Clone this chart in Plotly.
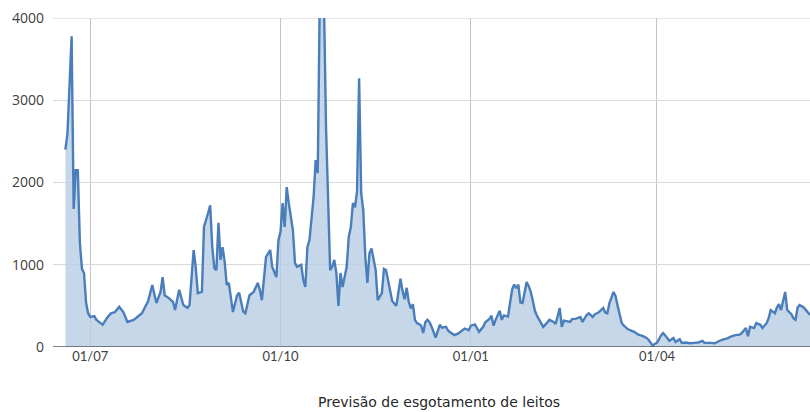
import plotly.graph_objects as go

dates = [
    "2020-06-19", "2020-06-20", "2020-06-22", "2020-06-23", "2020-06-24", "2020-06-25", "2020-06-26",
    "2020-06-27", "2020-06-28", "2020-06-29", "2020-06-30",
    "2020-07-01", "2020-07-03", "2020-07-04", "2020-07-06", "2020-07-07", "2020-07-09", "2020-07-11",
    "2020-07-13", "2020-07-15", "2020-07-17", "2020-07-19", "2020-07-22", "2020-07-24", "2020-07-26",
    "2020-07-29", "2020-07-31",
    "2020-08-02", "2020-08-04", "2020-08-05", "2020-08-06", "2020-08-08", "2020-08-10", "2020-08-11",
    "2020-08-13", "2020-08-15", "2020-08-17", "2020-08-18", "2020-08-20", "2020-08-21", "2020-08-22",
    "2020-08-24", "2020-08-25", "2020-08-27", "2020-08-28", "2020-08-29", "2020-08-30", "2020-08-31",
    "2020-09-01", "2020-09-02", "2020-09-03", "2020-09-04", "2020-09-05", "2020-09-06", "2020-09-07",
    "2020-09-08", "2020-09-10", "2020-09-11", "2020-09-13", "2020-09-14", "2020-09-16", "2020-09-18",
    "2020-09-20", "2020-09-21", "2020-09-22", "2020-09-24", "2020-09-26", "2020-09-27", "2020-09-29",
    "2020-09-30",
    "2020-10-01", "2020-10-02", "2020-10-03", "2020-10-04", "2020-10-05", "2020-10-07", "2020-10-08",
    "2020-10-09", "2020-10-11", "2020-10-12", "2020-10-13", "2020-10-14", "2020-10-15", "2020-10-17",
    "2020-10-18", "2020-10-19", "2020-10-20", "2020-10-21", "2020-10-22", "2020-10-23", "2020-10-25",
    "2020-10-26", "2020-10-27", "2020-10-28", "2020-10-29", "2020-10-30", "2020-10-31",
    "2020-11-02", "2020-11-03", "2020-11-04", "2020-11-05", "2020-11-06", "2020-11-07", "2020-11-08",
    "2020-11-09", "2020-11-10", "2020-11-11", "2020-11-12", "2020-11-13", "2020-11-14", "2020-11-16",
    "2020-11-17", "2020-11-19", "2020-11-20", "2020-11-21", "2020-11-23", "2020-11-24", "2020-11-26",
    "2020-11-28", "2020-11-29", "2020-11-30",
    "2020-12-01", "2020-12-02", "2020-12-03", "2020-12-04", "2020-12-05", "2020-12-06", "2020-12-07",
    "2020-12-08", "2020-12-09", "2020-12-10", "2020-12-11", "2020-12-12", "2020-12-13", "2020-12-14",
    "2020-12-15", "2020-12-17", "2020-12-18", "2020-12-20", "2020-12-21", "2020-12-22", "2020-12-24",
    "2020-12-26", "2020-12-28", "2020-12-29", "2020-12-31",
    "2021-01-01", "2021-01-03", "2021-01-05", "2021-01-07", "2021-01-08", "2021-01-10", "2021-01-11",
    "2021-01-12", "2021-01-13", "2021-01-15", "2021-01-16", "2021-01-17", "2021-01-19", "2021-01-20",
    "2021-01-21", "2021-01-22", "2021-01-23", "2021-01-24", "2021-01-25", "2021-01-26", "2021-01-28",
    "2021-01-29", "2021-01-30", "2021-01-31",
    "2021-02-01", "2021-02-02", "2021-02-03", "2021-02-05", "2021-02-07", "2021-02-08", "2021-02-10",
    "2021-02-11", "2021-02-13", "2021-02-14", "2021-02-15", "2021-02-17", "2021-02-18", "2021-02-19",
    "2021-02-21", "2021-02-23", "2021-02-24", "2021-02-26", "2021-02-27",
    "2021-03-01", "2021-03-02", "2021-03-03", "2021-03-04", "2021-03-06", "2021-03-07", "2021-03-08",
    "2021-03-09", "2021-03-11", "2021-03-12", "2021-03-13", "2021-03-14", "2021-03-15", "2021-03-16",
    "2021-03-18", "2021-03-21", "2021-03-23", "2021-03-25", "2021-03-27", "2021-03-28", "2021-03-30",
    "2021-03-31",
    "2021-04-01", "2021-04-03", "2021-04-04", "2021-04-06", "2021-04-07", "2021-04-09", "2021-04-10",
    "2021-04-12", "2021-04-13", "2021-04-15", "2021-04-17", "2021-04-19", "2021-04-21", "2021-04-23",
    "2021-04-24", "2021-04-27", "2021-04-29",
    "2021-05-02", "2021-05-05", "2021-05-07", "2021-05-09", "2021-05-11", "2021-05-12", "2021-05-14",
    "2021-05-15", "2021-05-16", "2021-05-18", "2021-05-19", "2021-05-21", "2021-05-22", "2021-05-24",
    "2021-05-25", "2021-05-26", "2021-05-27", "2021-05-28", "2021-05-29", "2021-05-30", "2021-05-31",
    "2021-06-01", "2021-06-02", "2021-06-03", "2021-06-04", "2021-06-05", "2021-06-06", "2021-06-07",
    "2021-06-08", "2021-06-09", "2021-06-11", "2021-06-13", "2021-06-14",
]

leitos = [
    2400, 2600, 3780, 1680, 2150, 2150, 1265,
    950, 900, 535, 410,
    365, 375, 330, 290, 270, 350, 410,
    425, 490, 425, 305, 330, 365, 410,
    560, 755,
    535, 670, 850, 630, 595, 550, 450,
    695, 510, 475, 510, 1180, 975, 655,
    670, 1460, 1630, 1725, 1215, 960, 935,
    1510, 1060, 1215, 1035, 755, 780, 630,
    425, 630, 660, 430, 410, 630, 670,
    780, 695, 570, 1095, 1180, 975, 850,
    1300,
    1400, 1750, 1460, 1945, 1750, 1420, 1020,
    975, 1000, 815, 730, 1215, 1300, 1825,
    2275, 2115, 4300, 4500, 4200, 2675, 935,
    975, 1060, 900, 500, 900, 730,
    975, 1340, 1460, 1750, 1700, 1890, 3270,
    1870, 1665, 1100, 780, 1140, 1200, 935,
    570, 655, 950, 935, 695, 560, 500,
    830, 680, 580,
    720, 550, 470, 520, 330, 290, 280,
    260, 170, 300, 330, 305, 250, 170,
    115, 270, 235, 245, 200, 180, 145,
    165, 200, 225, 205,
    260, 275, 185, 245, 300, 340, 380,
    260, 330, 440, 330, 385, 370, 540,
    700, 760, 715, 760, 540, 535, 790,
    740, 670, 560,
    440, 380, 330, 245, 300, 330, 305,
    280, 475, 245, 320, 310, 305, 340,
    345, 365, 305, 390, 410,
    365, 400, 410, 425, 475, 420, 410,
    530, 670, 620, 500, 400, 290, 260,
    215, 185, 150, 135, 110, 85, 15,
    40,
    50, 140, 170, 110, 75, 110, 60,
    95, 50, 55, 45, 50, 55, 75,
    50, 50, 45,
    85, 105, 130, 145, 150, 170, 230,
    130, 245, 230, 290, 270, 230, 290,
    350, 450, 430, 410, 480, 520, 450,
    570, 670, 450, 425, 400, 350, 330,
    480, 510, 480, 420, 390,
]

y_ticks = [0, 1000, 2000, 3000, 4000]
x_tick_dates = ["2020-07-01", "2020-10-01", "2021-01-01", "2021-04-01"]
x_tick_labels = ["01/07", "01/10", "01/01", "01/04"]
axis_title = "Previsão de esgotamento de leitos"

fig = go.Figure()
fig.add_trace(go.Scatter(
    x=dates, y=leitos, mode="lines",
    line=dict(color="#4a7ebb", width=2.4),
    fill="tozeroy", fillcolor="rgba(185,205,229,0.8)",
    showlegend=False, hoverinfo="skip",
))

fig.update_layout(
    width=810, height=412,
    margin=dict(l=53, r=0, t=18, b=65),
    paper_bgcolor="white", plot_bgcolor="white",
    font=dict(family="Open Sans", color="#404040"),
    hovermode=False,
    xaxis=dict(
        type="date",
        range=["2020-06-13", "2021-06-14"],
        tickvals=x_tick_dates, ticktext=x_tick_labels,
        showgrid=True, gridcolor="#c4c4c4", gridwidth=1,
        showline=False, zeroline=False, ticks="",
        tickfont=dict(family="Lato", size=13, color="#404040"),
    ),
    yaxis=dict(
        range=[0, 4002], tickvals=y_ticks,
        showgrid=True, gridcolor="#d9d9d9", gridwidth=1,
        zeroline=False, showline=False, ticks="",
        tickfont=dict(family="Open Sans", size=14, color="#404040"),
        ticklabelstandoff=8,
    ),
    shapes=[
        dict(type="line", xref="paper", yref="y", x0=0, x1=1, y0=y_ticks[-1], y1=y_ticks[-1],
             line=dict(color="#d9d9d9", width=1), layer="below"),
        dict(type="line", xref="paper", yref="y", x0=0, x1=1, y0=0, y1=0,
             line=dict(color="#595959", width=1.5), layer="above"),
    ],
    annotations=[dict(text=axis_title, xref="paper", yref="paper", x=0.51, y=0,
                      yshift=-55, showarrow=False, xanchor="center", yanchor="middle",
                      font=dict(family="DejaVu Sans", size=14, color="#262626"))],
)

fig.write_html("out.html", config={"displayModeBar": False},
               post_script="document.body.style.margin='0px';")
